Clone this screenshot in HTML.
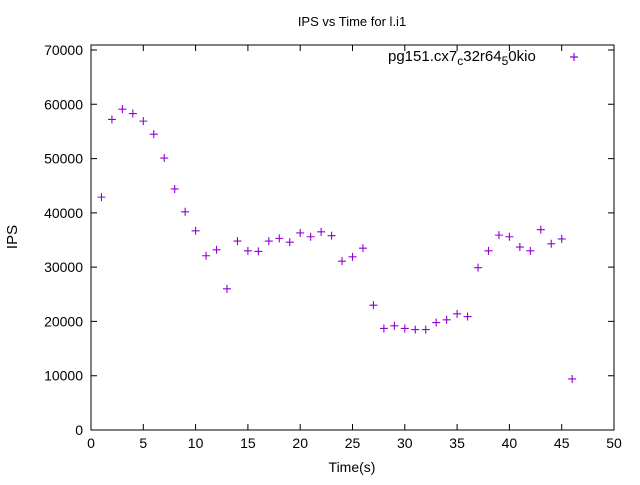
<!DOCTYPE html>
<html><head><meta charset="utf-8"><style>
body{margin:0;background:#fff;}
svg{font-family:"Liberation Sans",sans-serif;}
</style></head><body>
<svg id="c" width="640" height="480" xmlns="http://www.w3.org/2000/svg">
<rect width="640" height="480" fill="#fff"/>
<text x="352" y="26" font-size="13" text-anchor="middle">IPS vs Time for l.i1</text>
<text x="17" y="237" font-size="15" text-anchor="middle" transform="rotate(-90 17 237)">IPS</text>
<text x="352" y="472" font-size="14" text-anchor="middle">Time(s)</text>
<g id="axes"></g>
<g id="pts"></g>
<g>
<text x="388" y="61" font-size="15">pg151.cx7<tspan font-size="12" dy="4">c</tspan><tspan dy="-4">32r64</tspan><tspan font-size="12" dy="4">5</tspan><tspan dy="-4">0kio</tspan></text>
<path d="M570 57h8M574 53v8" stroke="#9400d3" stroke-width="1.2"/>
</g>
</svg>
<script>
const xs=[1,2,3,4,5,6,7,8,9,10,11,12,13,14,15,16,17,18,19,20,21,22,23,24,25,26,27,28,29,30,31,32,33,34,35,36,37,38,39,40,41,42,43,44,45,46];
const ips=[42900,57200,59100,58300,56900,54500,50100,44400,40200,36700,32100,33200,26000,34800,33000,32900,34800,35300,34600,36300,35600,36500,35800,31100,31900,33500,23000,18700,19200,18700,18500,18500,19800,20300,21400,20900,29900,33000,35900,35600,33700,33000,36900,34300,35200,9400];
const xTicks=[0,5,10,15,20,25,30,35,40,45,50];
const yTicks=[0,10000,20000,30000,40000,50000,60000,70000];
const L=91,R=614,T=45,B=430;
const sx=v=>L+(v-0)*(R-L)/50;
const sy=v=>B-v*(B-50)/70000;
const ns="http://www.w3.org/2000/svg";
const ax=document.getElementById('axes');
function mk(tag,attrs,parent){const e=document.createElementNS(ns,tag);for(const k in attrs)e.setAttribute(k,attrs[k]);parent.appendChild(e);return e;}
const border=mk('rect',{x:L,y:T,width:R-L,height:B-T,fill:'none',stroke:'#000','stroke-width':1},ax);


xTicks.forEach(t=>{
 const x=sx(t);
 const tk=mk('path',{d:`M${x} ${B}v-6M${x} ${T}v6`,stroke:'#000'},ax);
 
 
 const lb=mk('text',{x:x,y:B+18,'font-size':14,'text-anchor':'middle'},ax);
 lb.textContent=t;
 
 
});
yTicks.forEach(t=>{
 const y=sy(t);
 const tk=mk('path',{d:`M${L} ${y}h6M${R} ${y}h-6`,stroke:'#000'},ax);
 
 
 const lb=mk('text',{x:L-8,y:y+5,'font-size':14,'text-anchor':'end'},ax);
 lb.textContent=t;
 
 
});
const pg=document.getElementById('pts');
xs.forEach((v,i)=>{
 const x=sx(v),y=sy(ips[i]);
 const p=mk('path',{d:`M${x-4} ${y}h8M${x} ${y-4}v8`,stroke:'#9400d3','stroke-width':1.1},pg);
 
 
});
</script>
</body></html>
